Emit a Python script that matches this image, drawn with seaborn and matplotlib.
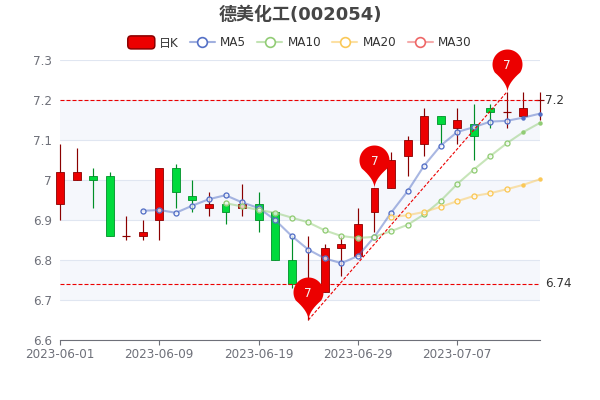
import numpy as np
import pandas as pd
import matplotlib
matplotlib.use("Agg")
import matplotlib.pyplot as plt
import seaborn as sns
from matplotlib.lines import Line2D
from matplotlib.patches import FancyBboxPatch, Patch
from matplotlib.legend_handler import HandlerPatch
from matplotlib.path import Path

title = "德美化工(002054)"
dates = ["2023-06-01", "2023-06-02", "2023-06-05", "2023-06-06", "2023-06-07", "2023-06-08",
         "2023-06-09", "2023-06-12", "2023-06-13", "2023-06-14", "2023-06-15", "2023-06-16",
         "2023-06-19", "2023-06-20", "2023-06-21", "2023-06-26", "2023-06-27", "2023-06-28",
         "2023-06-29", "2023-06-30", "2023-07-03", "2023-07-04", "2023-07-05", "2023-07-06",
         "2023-07-07", "2023-07-10", "2023-07-11", "2023-07-12", "2023-07-13", "2023-07-14"]
opens = [6.94, 7.00, 7.01, 7.01, 6.86, 6.86, 6.90, 7.03, 6.96, 6.93, 6.94, 6.93, 6.94, 6.92, 6.80,
         6.72, 6.72, 6.83, 6.81, 6.92, 6.98, 7.06, 7.09, 7.16, 7.13, 7.14, 7.18, 7.17, 7.16, 7.20]
closes = [7.02, 7.02, 7.00, 6.86, 6.86, 6.87, 7.03, 6.97, 6.95, 6.94, 6.92, 6.94, 6.90, 6.80, 6.74,
          6.75, 6.83, 6.84, 6.89, 6.98, 7.05, 7.10, 7.16, 7.14, 7.15, 7.11, 7.17, 7.17, 7.18, 7.20]
highs = [7.09, 7.08, 7.03, 7.02, 6.91, 6.90, 7.03, 7.04, 7.00, 6.97, 6.94, 6.99, 6.97, 6.92, 6.86,
         6.86, 6.84, 6.86, 6.93, 6.98, 7.07, 7.11, 7.18, 7.16, 7.18, 7.19, 7.19, 7.22, 7.22, 7.22]
lows = [6.90, 7.00, 6.93, 6.86, 6.85, 6.85, 6.85, 6.93, 6.92, 6.91, 6.89, 6.91, 6.87, 6.80, 6.73,
        6.65, 6.72, 6.76, 6.81, 6.87, 6.98, 7.01, 7.06, 7.09, 7.09, 7.05, 7.13, 7.13, 7.16, 7.15]
ma5 = [None] * 5 + [6.923, 6.925, 6.918, 6.936, 6.952, 6.962, 6.944, 6.93, 6.90, 6.86, 6.826, 6.804,
                    6.792, 6.81, 6.858, 6.918, 6.972, 7.036, 7.086, 7.12, 7.132, 7.146, 7.148, 7.156, 7.166]
ma10 = [None] * 10 + [6.942, 6.934, 6.925, 6.918, 6.906, 6.894, 6.874, 6.86, 6.855, 6.858, 6.872,
                      6.888, 6.914, 6.948, 6.99, 7.026, 7.06, 7.092, 7.12, 7.143]
ma20 = [None] * 20 + [6.907, 6.912, 6.92, 6.933, 6.947, 6.96, 6.967, 6.977, 6.988, 7.002]
mark_lines = [7.2, 6.74]
pin_idx = [15, 19, 27]
pin_val = [6.65, 6.98, 7.22]
yticks = [6.6, 6.7, 6.8, 6.9, 7, 7.1, 7.2, 7.3]
xtick_idx = [0, 6, 12, 18, 24]

RED, RED_D = "#ec0000", "#8a0000"
GRN, GRN_D = "#00da3c", "#008f28"
MA_COL = {"MA5": "#5470c6", "MA10": "#91cc75", "MA20": "#fac858", "MA30": "#ee6666"}
AXC = "#6e7079"
PX = 72 / 100

sns.set_theme(style="white")
plt.rcParams["font.family"] = ["DejaVu Sans", "Noto Sans CJK SC"]

fig = plt.figure(figsize=(6, 4), dpi=100)
ax = fig.add_axes([60 / 600, 60 / 400, 480 / 600, 280 / 400])
x = np.arange(len(dates))

# background bands and grid
for lo in (7.1, 6.9, 6.7):
    ax.axhspan(lo, lo + 0.1, color="#f5f7fc", lw=0, zorder=0)
ax.set_yticks(yticks)
ax.set_yticklabels([f"{v:g}" for v in yticks])
ax.yaxis.grid(True, color="#e0e6f1", lw=0.8)
ax.set_axisbelow(True)

# candles
half = 0.24
for i in x:
    up = closes[i] >= opens[i]
    body, edge = (RED, RED_D) if up else (GRN, GRN_D)
    ax.vlines(i, lows[i], highs[i], color=edge, lw=0.85, zorder=2, clip_on=False)
    if closes[i] == opens[i]:
        ax.hlines(opens[i], i - half, i + half, color=edge, lw=0.85, zorder=3, clip_on=False)
    else:
        ax.bar(i, closes[i] - opens[i], bottom=opens[i], width=2 * half, color=body,
               edgecolor=edge, linewidth=0.6, zorder=3, clip_on=False)

# moving averages
df = pd.DataFrame({"x": x, "MA5": ma5, "MA10": ma10, "MA20": ma20}).astype(float)
for name in ("MA5", "MA10", "MA20"):
    c = MA_COL[name]
    d = df.dropna(subset=[name])
    sns.lineplot(data=d, x="x", y=name, ax=ax, color=c, lw=1.5, alpha=0.5, zorder=4,
                 clip_on=False, legend=False, errorbar=None)
    head, tail = d.iloc[:-2], d.iloc[-2:]
    ax.plot(head["x"], head[name], ls="none", marker="o", ms=3.6, mew=0.95, mfc="#ffffffb0",
            mec=c, zorder=5, clip_on=False)
    ax.plot(tail["x"], tail[name], ls="none", marker="o", ms=3.2, mew=0, mfc=c,
            zorder=5, clip_on=False)

# mark lines
for v in mark_lines:
    ax.axhline(v, color=RED, lw=0.8, ls=(0, (3.6, 1.8)), zorder=6)
    ax.annotate(f"{v:g}", xy=(1, v), xycoords=("axes fraction", "data"), xytext=(5 * PX, 0),
                textcoords="offset points", va="center", ha="left", fontsize=12 * PX, color="#333333")
ax.plot([pin_idx[0], pin_idx[-1]], [pin_val[0], pin_val[-1]], color=RED, lw=0.8,
        ls=(0, (2.8, 1.6)), zorder=6, clip_on=False)

# pins
r, cy = 15.0, 28.0
ang = np.arcsin(r / cy)
arc = np.linspace(-ang, np.pi + ang, 50)
ax_pts = np.c_[r * np.cos(arc), cy + r * np.sin(arc)]
t = np.linspace(0, 1, 10)
ctrl = np.array([0.0, 9.0])
left = ((1 - t) ** 2)[:, None] * ax_pts[-1] + (2 * t * (1 - t))[:, None] * ctrl
right = (t ** 2)[:, None] * ax_pts[0] + (2 * t * (1 - t))[:, None] * ctrl
verts = np.vstack([ax_pts, left, right[1:], ax_pts[:1]])
pin = Path(verts, closed=True)
ax.scatter(pin_idx, pin_val, marker=pin, s=(2 * verts[:, 1].max() * PX) ** 2, color=RED,
           linewidths=0, zorder=7, clip_on=False)
for i, v in zip(pin_idx, pin_val):
    ax.annotate(f"{round(v)}", xy=(i, v), xytext=(0, 26.5 * PX), textcoords="offset points",
                ha="center", va="center", color="#f4f4f4", fontsize=12 * PX, zorder=8)

# axes
ax.set_xlim(0, len(dates) - 1)
ax.set_ylim(6.6, 7.3)
ax.set_xticks(xtick_idx)
ax.set_xticklabels([dates[i] for i in xtick_idx])
ax.set_xlabel("")
ax.set_ylabel("")
ax.tick_params(axis="x", length=5 * PX, width=0.8, color=AXC, labelcolor=AXC, labelsize=12 * PX, pad=3 * PX, bottom=True)
ax.tick_params(axis="y", length=0, labelcolor=AXC, labelsize=12 * PX, pad=8 * PX)
sns.despine(ax=ax, left=True, top=True, right=True)
ax.spines["bottom"].set_color(AXC)
ax.spines["bottom"].set_linewidth(0.8)

fig.text(0.5, 1 - 15 / 400, title, ha="center", va="center", fontsize=18 * PX, fontweight="bold", color="#464646")


# legend
def rounded(legend, orig_handle, xdescent, ydescent, width, height, fontsize):
    return FancyBboxPatch((-xdescent - 1 * PX, -ydescent + height / 2 - 6.5 * PX), width + 2 * PX, 13 * PX,
                          boxstyle=f"round,pad=0,rounding_size={3.5 * PX}")


handles = [Patch(facecolor=RED, edgecolor=RED_D, linewidth=1.1, label="日K")] + [
    Line2D([], [], color=matplotlib.colors.to_rgba(c, 0.55), lw=1.5, marker="o", ms=7, mew=1.2,
           mfc="white", mec=c, label=n)
    for n, c in MA_COL.items()
]
leg = fig.legend(handles=handles, loc="center", bbox_to_anchor=(300 / 600, 1 - 43 / 400), ncols=5,
                 frameon=False, fontsize=12 * PX, labelcolor="#333333", handlelength=25 / 12,
                 handleheight=1.0, handletextpad=0.42, columnspacing=0.95, borderpad=0, borderaxespad=0,
                 handler_map={handles[0]: HandlerPatch(patch_func=rounded)})

fig.savefig("out.png", dpi=100)
